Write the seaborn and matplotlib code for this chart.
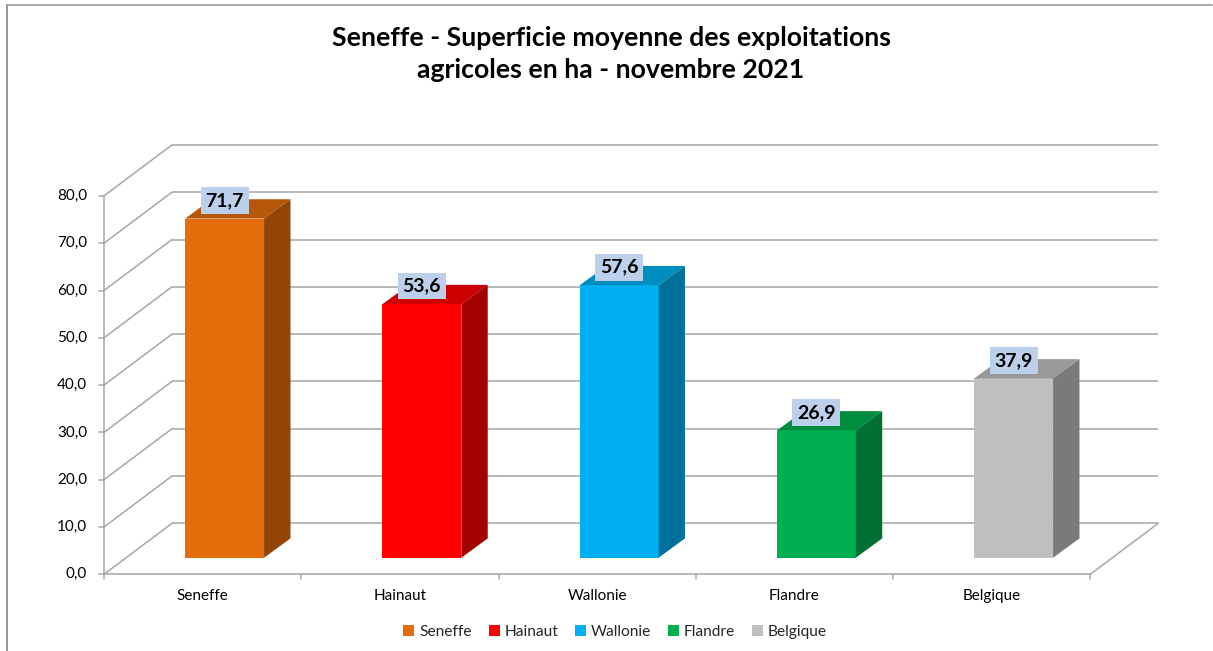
import matplotlib
matplotlib.use("Agg")
import numpy as np
import pandas as pd
import seaborn as sns
import matplotlib.pyplot as plt
from matplotlib.patches import Polygon
from matplotlib.lines import Line2D
from matplotlib.colors import to_rgb

# ---------------- data ----------------
regions = ["Seneffe", "Hainaut", "Wallonie", "Flandre", "Belgique"]
values = [71.7, 53.6, 57.6, 26.9, 37.9]
colors = ["#E46C0A", "#FF0000", "#00B0F0", "#00B050", "#BFBFBF"]
yticks = [0, 10, 20, 30, 40, 50, 60, 70, 80]
ytick_labels = ["0,0", "10,0", "20,0", "30,0", "40,0", "50,0", "60,0", "70,0", "80,0"]
value_labels = ["71,7", "53,6", "57,6", "26,9", "37,9"]
title = "Seneffe - Superficie moyenne des exploitations\nagricoles en ha - novembre 2021"

# ---------------- style ----------------
sns.set_style("white")
plt.rcParams["font.family"] = ["Lato", "DejaVu Sans"]

W, H = 1213, 651
fig = plt.figure(figsize=(W / 100, H / 100), dpi=100)

# axes = the mid-depth plane where the bars stand
ax_left, ax_width = 126.0, 986.25
ax_bottom, ax_height = 93.3, 378.4
ax = fig.add_axes([ax_left / W, ax_bottom / H, ax_width / W, ax_height / H])

df = pd.DataFrame({"region": regions, "value": values})
sns.barplot(data=df, x="region", y="value", hue="region", palette=colors,
            width=0.4, saturation=1, legend=True, ax=ax,
            edgecolor="none", linewidth=0, zorder=3)
ax.set_xlim(-0.5, len(regions) - 0.5)
ax.set_ylim(yticks[0], yticks[-1])
ax.axis("off")

# pixel -> data conversions
px_x = ax_width / (len(regions))          # pixels per category unit
px_y = ax_height / (yticks[-1] - yticks[0])  # pixels per value unit


def d(dx, dy):
    return dx / px_x, dy / px_y


front = d(-22.0, -16.6)
back = d(46.0, 34.4)
depth = d(26.4, 19.3)

grid_c = "#A6A6A6"
xl, xr = -0.5, len(regions) - 0.5

# back wall gridlines + left wall diagonals
for t in yticks:
    ax.plot([xl + back[0], xr + back[0]], [t + back[1], t + back[1]],
            color=grid_c, lw=1.1, zorder=0.5, clip_on=False, solid_capstyle="butt")
    ax.plot([xl + front[0], xl + back[0]], [t + front[1], t + back[1]],
            color=grid_c, lw=1.1, zorder=0.5, clip_on=False)
    # y tick marks
    tk = d(-5, 0)
    ax.plot([xl + front[0] + tk[0], xl + front[0]], [t + front[1], t + front[1]],
            color=grid_c, lw=1.1, zorder=0.5, clip_on=False)

# front vertical axis
ax.plot([xl + front[0], xl + front[0]], [yticks[0] + front[1], yticks[-1] + front[1]],
        color=grid_c, lw=1.1, zorder=0.6, clip_on=False)
# floor front edge and right diagonal
ax.plot([xl + front[0], xr + front[0]], [front[1], front[1]],
        color=grid_c, lw=1.1, zorder=0.6, clip_on=False)
ax.plot([xr + front[0], xr + back[0]], [front[1], back[1]],
        color=grid_c, lw=1.1, zorder=0.6, clip_on=False)
# x tick marks at category boundaries
tkx = d(0, -5)
for k in range(len(regions) + 1):
    xb = k - 0.5 + front[0]
    ax.plot([xb, xb], [front[1], front[1] + tkx[1]], color=grid_c, lw=1.1,
            zorder=0.6, clip_on=False)

# y tick labels
lab_off = d(-17, 0)
for t, s in zip(yticks, ytick_labels):
    ax.text(xl + front[0] + lab_off[0], t + front[1], s, ha="right", va="center",
            fontsize=11, color="#000000", clip_on=False)

# category labels
xlab_off = d(0, -22)
for i, r in enumerate(regions):
    ax.text(i + front[0], front[1] + xlab_off[1], r, ha="center", va="center",
            fontsize=11, color="#000000", clip_on=False)


def shade(c, f):
    r, g, b = to_rgb(c)
    return (r * f, g * f, b * f)


# 3D faces for the bars
bars = [p for p in ax.patches]
for p, c in zip(bars, colors):
    x0 = p.get_x()
    x1 = x0 + p.get_width()
    h = p.get_height()
    top = Polygon([(x0, h), (x1, h), (x1 + depth[0], h + depth[1]), (x0 + depth[0], h + depth[1])],
                  closed=True, facecolor=shade(c, 0.8), edgecolor="none", zorder=3, clip_on=False)
    side = Polygon([(x1, 0), (x1, h), (x1 + depth[0], h + depth[1]), (x1 + depth[0], depth[1])],
                   closed=True, facecolor=shade(c, 0.64), edgecolor="none", zorder=3, clip_on=False)
    ax.add_patch(top)
    ax.add_patch(side)
    p.set_clip_on(False)

# value labels
for i, (v, s) in enumerate(zip(values, value_labels)):
    ax.annotate(s, (i, v), xytext=(0, 13), textcoords="offset points",
                ha="center", va="center", fontsize=14, fontweight="bold",
                color="#000000", zorder=5, annotation_clip=False,
                bbox=dict(boxstyle="square,pad=0.25", facecolor="#BCD0EC", edgecolor="none"))

# legend
handles, labels = ax.get_legend_handles_labels()
if ax.get_legend() is not None:
    ax.get_legend().remove()
fig.legend(handles, labels, loc="center", bbox_to_anchor=(615 / W, 19 / H),
           bbox_transform=fig.transFigure, ncol=len(regions), frameon=False,
           fontsize=11.2, handlelength=0.7, handleheight=0.7, handletextpad=0.3,
           columnspacing=1.1, borderpad=0)

# title
fig.text(611 / W, 1 - 54 / H, title, ha="center", va="center", fontsize=19.2,
         fontweight="bold", linespacing=1.45, color="#000000")

# chart-area border (left and top)
fig.add_artist(Line2D([7 / W, 7 / W], [0, 1 - 5 / H], transform=fig.transFigure,
                      color="#8C8C8C", lw=1.3))
fig.add_artist(Line2D([7 / W, 1212 / W], [1 - 5 / H, 1 - 5 / H], transform=fig.transFigure,
                      color="#A0A0A0", lw=1.3))

fig.savefig("out.png", dpi=100, facecolor="white")
